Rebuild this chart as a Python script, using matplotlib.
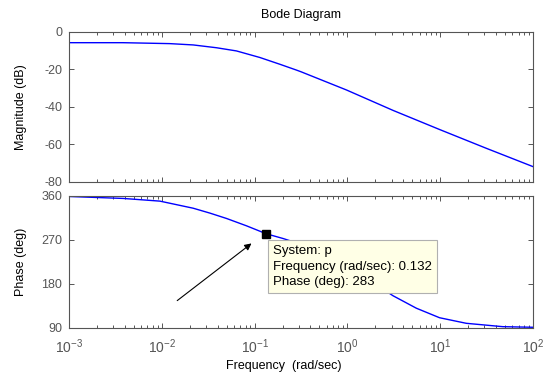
import matplotlib
matplotlib.use("Agg")
import matplotlib.pyplot as plt
from matplotlib.ticker import LogLocator, NullFormatter, FixedLocator

plt.rcParams['font.family'] = ['Liberation Sans', 'DejaVu Sans']
plt.rcParams['mathtext.fontset'] = 'custom'
plt.rcParams['mathtext.rm'] = 'Liberation Sans'
plt.rcParams['mathtext.it'] = 'Liberation Sans'

# Frequency response of system p
mag_freq = [0.001, 0.0038, 0.0122, 0.0218, 0.0389, 0.0638, 0.114, 0.187,
            0.282, 0.316, 0.975, 3.1, 9.84, 31.3, 100.0]
mag_db = [-5.7, -5.7, -6.2, -6.9, -8.4, -10.1, -13.6, -17.2,
          -20.3, -21.2, -30.9, -41.8, -52.0, -62.0, -71.8]

phase_freq = [0.001, 0.00385, 0.00955, 0.0218, 0.033, 0.0499, 0.0818, 0.114,
              0.132, 0.203, 0.4, 1.0, 2.0, 3.1, 5.53, 9.84, 19.1, 47.3, 100.0]
phase_deg = [359.0, 355.0, 349.5, 335.0, 325.0, 314.0, 299.0, 288.0,
             283.0, 273.0, 255.0, 218.0, 180.0, 156.0, 130.5, 111.0, 99.6, 92.7, 91.5]

# Data cursor
cursor_freq = 0.132
cursor_phase = 283
system_name = "p"

mag_ticks = [0, -20, -40, -60, -80]
phase_ticks = [90, 180, 270, 360]
freq_ticks = [1e-3, 1e-2, 1e-1, 1e0, 1e1, 1e2]
freq_labels = [r'$\mathregular{10^{-3}}$', r'$\mathregular{10^{-2}}$', r'$\mathregular{10^{-1}}$',
               r'$\mathregular{10^{0}}$', r'$\mathregular{10^{1}}$', r'$\mathregular{10^{2}}$']

W, H = 548, 374
fig = plt.figure(figsize=(W / 100, H / 100), dpi=100)
fig.patch.set_facecolor('white')

left, right = 69, 533
ax_mag = fig.add_axes([left / W, 1 - 182 / H, (right - left) / W, 150 / H])
ax_ph = fig.add_axes([left / W, 1 - 328 / H, (right - left) / W, 132 / H])

axis_gray = '#555555'
line_blue = '#0000ff'

for ax in (ax_mag, ax_ph):
    ax.set_xscale('log')
    ax.set_xlim(1e-3, 1e2)
    ax.xaxis.set_major_locator(FixedLocator(freq_ticks))
    ax.xaxis.set_minor_locator(LogLocator(base=10, subs=range(2, 10), numticks=20))
    ax.xaxis.set_minor_formatter(NullFormatter())
    ax.tick_params(which='both', direction='in', top=True, right=True,
                   colors=axis_gray, labelsize=9)
    ax.tick_params(which='major', length=3.5, width=0.7)
    ax.tick_params(which='minor', length=2.0, width=0.7)
    ax.tick_params(axis='y', pad=5)
    for sp in ax.spines.values():
        sp.set_color(axis_gray)
        sp.set_linewidth(0.8)

ax_mag.plot(mag_freq, mag_db, color=line_blue, lw=1.0)
ax_mag.set_ylim(-80, 0)
ax_mag.set_yticks(mag_ticks)
ax_mag.set_yticklabels([str(t) for t in mag_ticks])
ax_mag.tick_params(axis='x', labelbottom=False)
ax_mag.set_ylabel('Magnitude (dB)', fontsize=9, color='black')
ax_mag.yaxis.set_label_coords((27 - left) / (right - left), 0.5)
ax_mag.set_title('Bode Diagram', fontsize=9, color='black', pad=10)

ax_ph.plot(phase_freq, phase_deg, color=line_blue, lw=1.0)
ax_ph.set_ylim(90, 360)
ax_ph.set_yticks(phase_ticks)
ax_ph.set_yticklabels([str(t) for t in phase_ticks])
ax_ph.set_xticklabels(freq_labels)
ax_ph.tick_params(axis='x', pad=7, labelsize=10)
ax_ph.set_ylabel('Phase (deg)', fontsize=9, color='black')
ax_ph.yaxis.set_label_coords((27 - left) / (right - left), 0.5)

# cursor marker and its tip
ax_ph.plot([cursor_freq], [cursor_phase], marker='s', ms=6, color='black', zorder=5)
ax_ph.annotate('', xy=(0.0926, 263), xytext=(0.01466, 146),
               arrowprops=dict(arrowstyle='-|>', color='black', lw=0.8,
                               mutation_scale=10, shrinkA=0, shrinkB=0))
tip = "System: {}\nFrequency (rad/sec): {}\nPhase (deg): {}".format(
    system_name, cursor_freq, cursor_phase)
ax_ph.text(0.158, 259, tip, fontsize=9.5, color='black', va='top', ha='left',
           linespacing=1.38, zorder=6,
           bbox=dict(boxstyle='square,pad=0.4', fc='#ffffe6', ec='#b0b0b0', lw=0.8))

fig.text(284 / W, 1.5 / H, 'Frequency  (rad/sec)', fontsize=9,
         ha='center', va='bottom', color='black')

fig.savefig('out.png', dpi=100)
